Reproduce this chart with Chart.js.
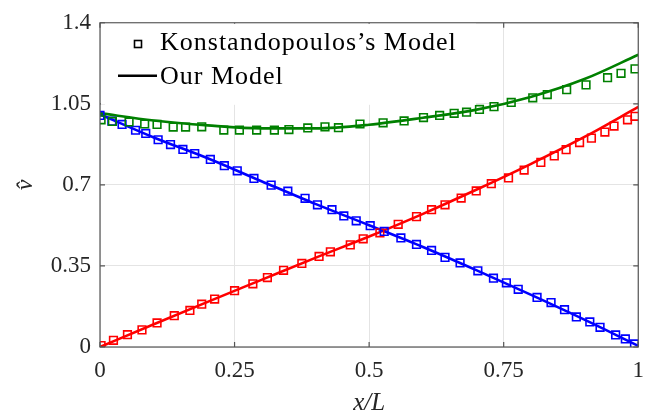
<!DOCTYPE html>
<html>
<head>
<meta charset="utf-8">
<script src="https://cdn.jsdelivr.net/npm/chart.js@4.4.1/dist/chart.umd.min.js"></script>
<style>
html,body{margin:0;padding:0;background:#fff;}
#wrap{width:654px;height:420px;position:relative;}
</style>
</head>
<body>
<div id="wrap"><canvas id="c" width="654" height="420"></canvas></div>
<script>
// ---- data ----
const xTicks = [0, 0.25, 0.5, 0.75, 1];
const yTicks = [0, 0.35, 0.7, 1.05, 1.4];
const legendLabels = ["Konstandopoulos\u2019s Model", "Our Model"];
const xTitle = "x/L";
const yTitle = "v\u0302";

// "Our Model" curves
const lineX     = [0, 0.1, 0.2, 0.3, 0.4, 0.5, 0.6, 0.7, 0.8, 0.9, 1];
const redLine   = [0, 0.098, 0.195, 0.290, 0.385, 0.477, 0.575, 0.680, 0.790, 0.907, 1.037];
const blueLine  = [1.005, 0.905, 0.815, 0.716, 0.618, 0.526, 0.432, 0.331, 0.226, 0.118, 0.005];
const greenLine = [1.010, 0.978, 0.957, 0.944, 0.944, 0.960, 0.990, 1.025, 1.080, 1.157, 1.262];

// Konstandopoulos's model (markers)
const redMarkX = [0.002,0.025,0.051,0.078,0.106,0.138,0.167,0.189,0.213,0.250,0.284,0.311,0.341,0.375,0.407,0.428,0.465,0.489,0.520,0.554,0.588,0.616,0.641,0.671,0.699,0.727,0.759,0.788,0.819,0.844,0.866,0.891,0.913,0.938,0.955,0.980,0.994];
const redMarkY = [0.006,0.029,0.053,0.074,0.104,0.135,0.158,0.185,0.207,0.243,0.273,0.300,0.331,0.361,0.391,0.411,0.441,0.467,0.493,0.530,0.563,0.593,0.614,0.643,0.674,0.705,0.730,0.764,0.797,0.825,0.852,0.883,0.902,0.928,0.954,0.981,0.996];
const blueMarkX = [0.000,0.022,0.041,0.066,0.085,0.108,0.131,0.154,0.176,0.205,0.231,0.255,0.286,0.318,0.349,0.381,0.404,0.431,0.453,0.476,0.502,0.528,0.559,0.588,0.616,0.641,0.669,0.702,0.731,0.755,0.777,0.812,0.838,0.863,0.885,0.910,0.929,0.958,0.976,0.993];
const blueMarkY = [1.000,0.975,0.961,0.936,0.922,0.895,0.874,0.853,0.835,0.810,0.783,0.761,0.728,0.699,0.673,0.642,0.614,0.593,0.566,0.545,0.524,0.499,0.471,0.443,0.417,0.387,0.363,0.329,0.297,0.277,0.249,0.214,0.192,0.161,0.130,0.108,0.085,0.052,0.035,0.013];
const greenMarkX = [0.002,0.023,0.054,0.083,0.106,0.136,0.159,0.189,0.230,0.259,0.291,0.324,0.351,0.386,0.418,0.443,0.483,0.526,0.565,0.601,0.631,0.658,0.681,0.705,0.732,0.764,0.804,0.831,0.867,0.903,0.943,0.968,0.994];
const greenMarkY = [0.981,0.974,0.972,0.963,0.961,0.950,0.950,0.951,0.937,0.937,0.937,0.937,0.939,0.946,0.951,0.947,0.963,0.968,0.976,0.991,1.000,1.009,1.014,1.026,1.038,1.056,1.076,1.090,1.111,1.132,1.163,1.182,1.201];

// ---- styling ----
const RED = 'rgb(255,0,0)', BLUE = 'rgb(0,0,255)', GREEN = 'rgb(0,128,0)';
const TEXT = '#262626';
const SERIF = "'Liberation Serif', 'Times New Roman', serif";

const zip = (xs, ys) => xs.map((x, i) => ({x: x, y: ys[i]}));

function markerDs(xs, ys, color) {
  return {
    data: zip(xs, ys), showLine: false,
    pointStyle: 'rect', pointRadius: 5.4, pointHoverRadius: 5.4,
    pointBorderWidth: 1.6, pointBorderColor: color,
    pointBackgroundColor: 'rgba(0,0,0,0)', borderColor: color
  };
}
function lineDs(ys, color) {
  return {
    data: zip(lineX, ys), showLine: true, pointRadius: 0, pointHoverRadius: 0,
    borderColor: color, borderWidth: 2.6, cubicInterpolationMode: 'monotone', fill: false
  };
}

const framePlugin = {
  id: 'frame',
  afterDatasetsDraw(chart) {
    const {ctx, chartArea: a, scales: {x, y}} = chart;
    ctx.save();
    ctx.strokeStyle = '#555';
    ctx.lineWidth = 1.2;
    ctx.beginPath();
    xTicks.forEach(v => {
      const px = x.getPixelForValue(v);
      ctx.moveTo(px, a.bottom); ctx.lineTo(px, a.bottom - 5);
      ctx.moveTo(px, a.top); ctx.lineTo(px, a.top + 5);
    });
    yTicks.forEach(v => {
      const py = y.getPixelForValue(v);
      ctx.moveTo(a.left, py); ctx.lineTo(a.left + 5, py);
      ctx.moveTo(a.right, py); ctx.lineTo(a.right - 5, py);
    });
    ctx.stroke();
    ctx.strokeRect(a.left, a.top, a.right - a.left, a.bottom - a.top);

    // legend (inside the axes, top-left, white box)
    ctx.fillStyle = '#fff';
    ctx.fillRect(a.left + 1, a.top + 1, 375, 81);
    ctx.strokeStyle = '#000';
    ctx.lineWidth = 1.6;
    ctx.strokeRect(134.5, 40.5, 7, 7);
    ctx.lineWidth = 2.6;
    ctx.beginPath(); ctx.moveTo(118, 75.7); ctx.lineTo(157, 75.7); ctx.stroke();
    ctx.fillStyle = '#000';
    ctx.font = "26px " + SERIF;
    ctx.textBaseline = 'alphabetic';
    ctx.textAlign = 'left';
    try { ctx.letterSpacing = '1px'; } catch (e) {}
    ctx.fillText(legendLabels[0], 160, 50);
    ctx.fillText(legendLabels[1], 160, 83.5);
    ctx.restore();
  }
};

new Chart(document.getElementById('c'), {
  type: 'scatter',
  data: {
    datasets: [
      markerDs(greenMarkX, greenMarkY, GREEN),
      markerDs(blueMarkX, blueMarkY, BLUE),
      markerDs(redMarkX, redMarkY, RED),
      lineDs(greenLine, GREEN),
      lineDs(blueLine, BLUE),
      lineDs(redLine, RED)
    ]
  },
  options: {
    responsive: false,
    animation: false,
    devicePixelRatio: 1,
    layout: {padding: {left: 0, right: 14, top: 14, bottom: 0}},
    plugins: {legend: {display: false}, tooltip: {enabled: false}},
    scales: {
      x: {
        type: 'linear', min: 0, max: 1,
        afterBuildTicks: s => { s.ticks = xTicks.map(v => ({value: v})); },
        afterFit: s => { s.height = 73; },
        grid: {color: '#e4e4e4', lineWidth: 1, drawTicks: false},
        border: {display: false},
        ticks: {color: TEXT, font: {family: SERIF, size: 23}, padding: 10, maxRotation: 0,
                callback: v => String(v)},
        title: {display: true, text: xTitle, color: TEXT,
                font: {family: SERIF, size: 25, style: 'italic'}, padding: {top: 0, bottom: 2}}
      },
      y: {
        type: 'linear', min: 0, max: 1.4,
        afterBuildTicks: s => { s.ticks = yTicks.map(v => ({value: v})); },
        afterFit: s => { s.width = 100; },
        grid: {color: '#e4e4e4', lineWidth: 1, drawTicks: false},
        border: {display: false},
        ticks: {color: TEXT, font: {family: SERIF, size: 23}, padding: 9,
                callback: v => String(v)},
        title: {display: true, text: yTitle, color: TEXT,
                font: {family: SERIF, size: 24, style: 'italic'}, padding: {top: 11, bottom: 0}}
      }
    }
  },
  plugins: [framePlugin]
});
</script>
</body>
</html>
